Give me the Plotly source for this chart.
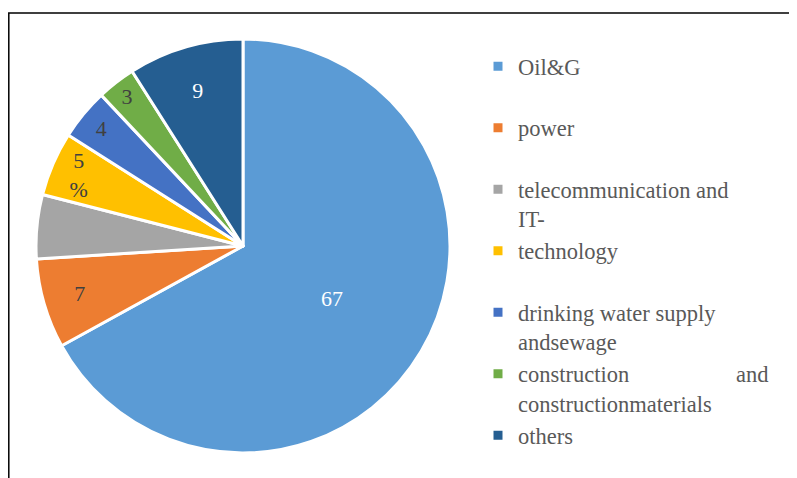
import plotly.graph_objects as go

sectors = [
    "Oil&G<br> ",
    "power<br> ",
    "telecommunication and<br>IT-",
    "technology<br> ",
    "drinking water supply<br>andsewage",
    "construction\u00a0\u00a0\u00a0\u00a0\u00a0\u00a0\u00a0\u00a0\u00a0\u00a0\u00a0\u00a0\u00a0\u00a0\u00a0\u00a0\u00a0\u00a0\u00a0and<br>constructionmaterials",
    "others<br> ",
]
shares = [67, 7, 5, 5, 4, 3, 9]
slice_labels = ["67", "7", "", "5<br>%", "4", "3", "9"]
colors = ["#5B9BD5", "#ED7D31", "#A5A5A5", "#FFC000", "#4472C4", "#70AD47", "#255E91"]
label_colors = ["#FFFFFF", "#404040", "#404040", "#404040", "#404040", "#404040", "#FFFFFF"]

SERIF = "Liberation Serif"
W, H = 797, 478
OFF = 8  # page body margin
cx, cy, r = 243 - OFF, 246 - OFF, 207


def px(x):
    return x / W


def py(y):
    return 1 - y / H


fig = go.Figure(go.Pie(
    labels=sectors,
    values=shares,
    text=slice_labels,
    textinfo="text",
    textposition="inside",
    insidetextorientation="horizontal",
    sort=False,
    direction="clockwise",
    rotation=0,
    marker=dict(colors=colors, line=dict(color="white", width=3)),
    textfont=dict(family=SERIF, size=22, color=label_colors),
    domain=dict(x=[px(cx - r), px(cx + r)], y=[py(cy + r), py(cy - r)]),
    hoverinfo="skip",
))

fig.update_layout(
    width=W, height=H,
    margin=dict(l=0, r=0, t=0, b=0),
    paper_bgcolor="white",
    font=dict(family=SERIF),
    showlegend=True,
    uniformtext=dict(minsize=22, mode="show"),
    legend=dict(
        x=px(478 - OFF), y=py(52 - OFF), xanchor="left", yanchor="top",
        font=dict(family=SERIF, size=22.5, color="#595959"),
        valign="top",
        bgcolor="rgba(0,0,0,0)",
    ),
    shapes=[dict(type="rect", xref="paper", yref="paper",
                 x0=px(8 - OFF) + 0.001, x1=1.02, y0=-0.02, y1=py(13 - OFF),
                 line=dict(color="black", width=1.5))],
)

fig.write_html("out.html")
